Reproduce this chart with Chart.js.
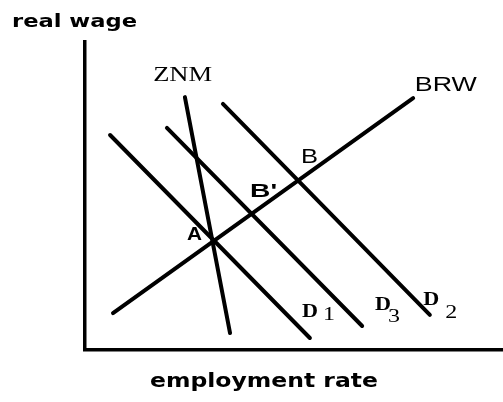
<!DOCTYPE html>
<html>
<head>
<meta charset="utf-8">
<script src="https://cdn.jsdelivr.net/npm/chart.js@4"></script>
<style>
  body { margin: 0; background: #fff; }
  #wrap { width: 503px; height: 402px; }
</style>
</head>
<body>
<div id="wrap"><canvas id="myChart"></canvas></div>
<script>
// line end points (employment rate, real wage), 0-100 units
const znm = [{ x: 23.9, y: 82.1 }, { x: 34.7, y: 5.5 }];
const brw = [{ x: 6.7, y: 12.0 }, { x: 78.5, y: 81.8 }];
const d1 = [{ x: 6.0, y: 69.8 }, { x: 53.8, y: 3.9 }];
const d3 = [{ x: 19.6, y: 72.1 }, { x: 66.3, y: 7.8 }];
const d2 = [{ x: 33.0, y: 79.9 }, { x: 82.5, y: 11.4 }];

const yTitle = 'real wage';
const xTitle = 'employment rate';

// text labels next to the curves and points (left / baseline, in data units)
const curveLabels = [
    { text: 'ZNM', x: 16.3, y: 87.3, font: '20px "Liberation Serif"', w: 59 },
    { text: 'BRW', x: 78.9, y: 84.1, font: '21px "Liberation Sans"', w: 62 },
    { text: 'B', x: 51.7, y: 60.7, font: '21px "Liberation Sans"', w: 17 },
    { text: "B'", x: 39.5, y: 49.7, font: 'bold 19px "Liberation Sans"', w: 27 },
    { text: 'A', x: 24.4, y: 35.7, font: 'bold 19px "Liberation Sans"', w: 15 }
];
const demandLabels = [
    { text: 'D', sub: '1', x: 51.9, y: 10.7, dx: 21, dy: 3 },
    { text: 'D', sub: '3', x: 69.4, y: 13.0, dx: 13, dy: 12 },
    { text: 'D', sub: '2', x: 80.9, y: 14.6, dx: 22, dy: 13 }
];

function stretchText(ctx, text, x, y, font, w) {
    ctx.save();
    ctx.font = font;
    const m = ctx.measureText(text).width;
    ctx.translate(x, y);
    if (w) ctx.scale(w / m, 1);
    ctx.fillText(text, 0, 0);
    ctx.restore();
}

const textPlugin = {
    id: 'texts',
    afterDraw(chart) {
        const ctx = chart.ctx;
        const xs = chart.scales.x, ys = chart.scales.y;
        ctx.save();
        ctx.fillStyle = '#000';
        ctx.textBaseline = 'alphabetic';
        ctx.textAlign = 'left';
        stretchText(ctx, yTitle, 12, 27, 'bold 18px "DejaVu Sans"', 125);
        stretchText(ctx, xTitle, 150, 387, 'bold 19px "DejaVu Sans"', 228);
        curveLabels.forEach(l => {
            stretchText(ctx, l.text, xs.getPixelForValue(l.x), ys.getPixelForValue(l.y), l.font, l.w);
        });
        demandLabels.forEach(l => {
            const px = xs.getPixelForValue(l.x), py = ys.getPixelForValue(l.y);
            stretchText(ctx, l.text, px, py, 'bold 19px "Liberation Serif"', 16);
            stretchText(ctx, l.sub, px + l.dx, py + l.dy, '19px "Liberation Serif"', 12);
        });
        ctx.restore();
    }
};

function lineSet(label, data) {
    return {
        label: label,
        data: data,
        showLine: true,
        borderColor: '#000',
        borderWidth: 4,
        borderCapStyle: 'round',
        pointRadius: 0,
        fill: false
    };
}

const ctx = document.getElementById('myChart').getContext('2d');
const myChart = new Chart(ctx, {
    type: 'scatter',
    data: {
        datasets: [
            lineSet('ZNM', znm),
            lineSet('BRW', brw),
            lineSet('D1', d1),
            lineSet('D3', d3),
            lineSet('D2', d2)
        ]
    },
    options: {
        responsive: true,
        maintainAspectRatio: false,
        animation: false,
        layout: { padding: { left: 85, top: 42, right: 0, bottom: 52 } },
        plugins: { legend: { display: false }, tooltip: { enabled: false } },
        scales: {
            x: {
                min: 0, max: 100,
                ticks: { display: false },
                grid: { display: false, drawTicks: false },
                border: { display: true, color: '#000', width: 3.5 }
            },
            y: {
                min: 0, max: 100,
                ticks: { display: false },
                grid: { display: false, drawTicks: false },
                border: { display: true, color: '#000', width: 3.5 }
            }
        }
    },
    plugins: [textPlugin]
});
</script>
</body>
</html>
